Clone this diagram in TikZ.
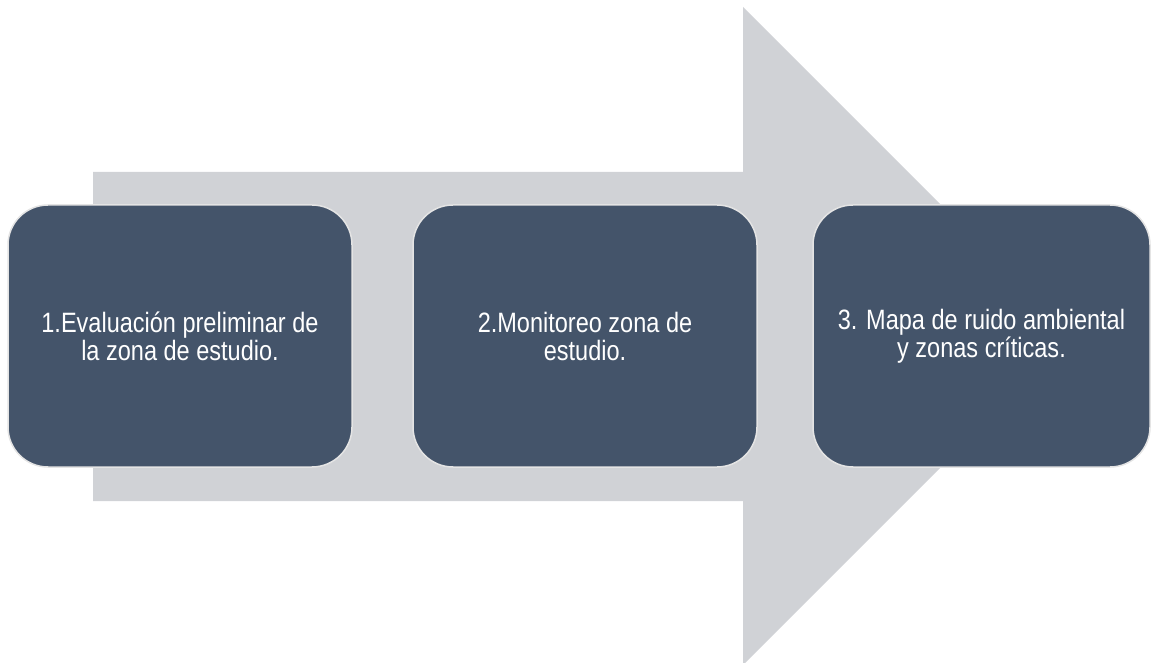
\documentclass[tikz,border=0pt]{standalone}
\usepackage{fontspec}
\setmainfont[FakeStretch=0.84]{Liberation Sans}
\usepackage{tikz}
\usetikzlibrary{positioning}
\definecolor{boxblue}{HTML}{44546A}
\definecolor{arrowgray}{HTML}{D0D2D6}
\definecolor{rimgray}{HTML}{E4E4E4}
\tikzset{stepbox/.style={rectangle, rounded corners=40pt, fill=boxblue, draw=rimgray,
      line width=1.5pt, minimum width=344pt, minimum height=262pt, inner sep=0pt,
      align=center, text=white, font=\fontsize{28}{28}\selectfont}}

\begin{document}
\begin{tikzpicture}[x=1pt,y=1pt]
		\useasboundingbox (0,0) rectangle (1151,662);
		\fill[arrowgray] (93,161) -- (93,490) -- (743,490) -- (743,655) -- (1072,326) -- (743,-3) -- (743,161) -- cycle;
		\node[stepbox] (eval) at (180,326) {1.Evaluación preliminar de\\la zona de estudio.};
		\node[stepbox] (monit) at (585,326) {2.Monitoreo zona de\\estudio.};
		\node[stepbox, minimum width=337pt] (mapa) at (981.5,326) {3. Mapa de ruido ambiental\\y zonas críticas.};
\end{tikzpicture}
\end{document}
